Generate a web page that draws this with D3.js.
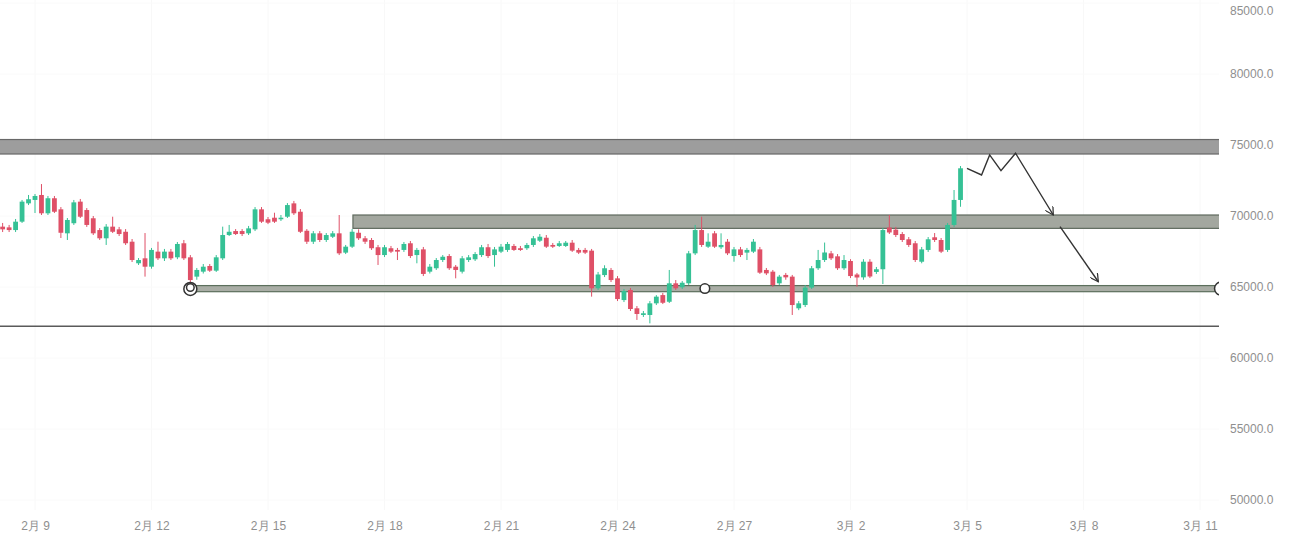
<!DOCTYPE html>
<html lang="zh">
<head>
<meta charset="UTF-8">
<title>candles</title>
<script src="https://cdn.jsdelivr.net/npm/d3@7"></script>
<style>
  body { margin: 0; background: #fff; }
  svg { display: block; font-family: Roboto, "Noto Sans CJK SC", sans-serif; }
  .axis text { fill: #8f8f8f; font-size: 12px; }
</style>
</head>
<body>
<div id="chart"></div>
<script>
// 4h candles, first one opens 2月8 04:00
var firstCandle = new Date(2023, 1, 8, 4);
var candleHours = 4;

var opens = [
69250,69200,69010,69600,70890,71130,71480,70190,71250,70470,
68780,69490,71010,70420,69840,69010,68430,69250,69060,68890,
68190,66670,67020,66430,67490,67020,67490,67090,68080,67090,
65730,66080,66480,66150,67020,68660,68940,68940,68780,69060,
70470,69770,69880,69770,69950,70890,70300,68960,68190,68780,
68310,68540,68780,67420,67840,68820,68430,68310,67800,67250,
67730,67610,67610,68080,67250,67650,66080,66320,66900,67180,
66430,66080,66900,66950,67250,67800,67250,67490,67610,67890,
67730,67730,67960,68260,68470,67960,67890,67890,68120,67610,
67610,67560,64910,65840,66200,65610,64080,64790,63500,63030,
63030,63850,64430,63960,65260,64980,65260,67370,69010,67840,
68780,67800,68190,67180,67650,67420,67490,67650,66200,66080,
65260,65850,65730,63500,63730,64960,66320,66900,67370,67160,
66320,66830,65880,65680,66780,66060,66250,69190,69040,68730,
68360,68080,66780,67610,68500,68310,67610,69370,71130];

var closes = [
69060,69010,69600,71010,71180,71410,70190,71250,70300,68820,
69720,70960,69950,69370,68780,68430,69250,68890,68730,68080,
66900,66900,66430,67610,67020,67490,67020,68030,67020,65490,
66200,66430,66150,67090,68660,68890,68730,68730,69130,70470,
69600,69530,69600,69880,70770,70190,68890,68190,68780,68310,
68660,68780,67370,67840,68890,68430,68190,67730,67250,67800,
67490,67490,68030,67180,67610,65920,66430,66900,67130,66320,
66200,67020,67090,67320,67800,67180,67650,67840,68030,67610,
67610,67960,68430,68540,67840,67840,68080,68120,67560,67420,
67420,64910,65880,66320,65490,64150,64720,63450,63100,63150,
63850,64320,63890,65260,64910,65300,67370,69010,67960,68190,
67840,67960,67370,67650,67250,67610,68190,66010,65960,65140,
65730,65680,63730,63850,64960,66320,66900,67430,67020,66320,
66900,65770,65670,66780,65740,66250,69010,68840,68660,68310,
67960,66900,67650,68360,68310,67490,69370,71130,73360];

var highs = [
69510,69370,69790,71130,71480,71550,72250,71410,71410,70630,
69860,71130,71200,70560,70000,69150,69430,69950,69230,69080,
68380,67040,68800,67750,68190,67680,67680,68170,68310,67250,
66340,66620,66620,67250,69250,69370,69080,69080,69300,70630,
70630,69930,70230,70070,70910,71060,70490,69080,68940,68940,
68800,68940,70070,67960,69080,69060,68590,68450,67960,67960,
67890,67750,68170,68240,67750,67820,66620,67040,67250,67320,
66550,67180,67250,67460,67960,68030,67820,68030,68170,68030,
67890,68100,68590,68730,68660,68100,68240,68240,68310,67750,
67750,67680,66060,66530,66340,65770,64860,64930,63660,63310,
64010,64430,64580,66200,65490,65420,67540,69370,69950,68780,
68940,68780,68380,67820,67820,67750,68380,67820,66340,66200,
65850,65990,65850,64010,65140,66480,67610,68130,67540,67320,
67250,66960,65990,66960,66960,66410,69150,70070,69230,68870,
68520,68240,67820,68520,68800,68450,69510,71830,73520];

var lows = [
68870,68870,68870,69510,70770,70210,70070,70070,70210,68450,
68310,69370,69860,69230,68660,68310,67960,68800,68590,67960,
66760,66550,65730,66290,66900,66830,66900,66960,66900,65140,
65510,65950,66060,66060,66900,68590,68660,68590,68660,68940,
69510,69430,69510,69650,69860,70070,68800,68030,68030,68170,
68170,68450,67250,67320,67750,68310,68030,67610,66550,67110,
67390,66900,67470,67040,66670,65770,65950,66200,66760,66200,
65610,65950,66760,66830,67110,67040,66430,67390,67470,67540,
67540,67610,67820,68170,67750,67750,67820,67820,67470,67320,
67320,64320,64790,65700,65350,64010,63940,63310,62680,62890,
62440,63730,63800,63870,64790,64860,65140,67250,67820,67750,
67750,67680,67250,66780,67110,66900,67390,65920,65840,65000,
65140,65510,63030,63370,63590,64860,66200,66760,66900,66200,
66200,65630,65020,65510,65630,65920,65210,68730,68520,68170,
67820,66760,66670,67470,68170,67390,67470,69230,70650];

var xTickDates = [
  new Date(2023,1,9), new Date(2023,1,12), new Date(2023,1,15), new Date(2023,1,18),
  new Date(2023,1,21), new Date(2023,1,24), new Date(2023,1,27), new Date(2023,2,2),
  new Date(2023,2,5), new Date(2023,2,8), new Date(2023,2,11)];
var yTicks = [50000,55000,60000,65000,70000,75000,80000,85000];

// drawn zones: [start, low price, high price]
var zoneStarts = [new Date(2023,1,7), new Date(2023,1,17,4,30), new Date(2023,1,13)];
var zoneLows   = [74365, 69130, 64670];
var zoneHighs  = [75385, 70070, 65100];
var zoneFills  = ["#9d9d9d", "#a3a79f", "#a9ada5"];
var zoneEdges  = ["#686868", "#5f6a5e", "#5c6f5c"];
var zoneEnd = new Date(2023,2,12);
var floorPrice = 62240;

// projected path (zigzag then two legs down)
var pathTimes = [new Date(2023,2,5,0), new Date(2023,2,5,9), new Date(2023,2,5,14),
                 new Date(2023,2,5,21), new Date(2023,2,6,6), new Date(2023,2,7,5,20)];
var pathPrices = [73360, 72890, 74300, 73190, 74420, 70070];
var leg2Times = [new Date(2023,2,7,9,30), new Date(2023,2,8,9,10)];
var leg2Prices = [69250, 65370];

var markTimes = [new Date(2023,1,13,0), new Date(2023,1,26,6), new Date(2023,2,11,13)];
var markPrices = [64860, 64890, 64890];

var w = 1290, h = 537, plotRight = 1219;

var svg = d3.select("#chart").append("svg")
  .attr("width", w).attr("height", h);

var x = d3.scaleTime()
  .domain([new Date(2023,1,9), new Date(2023,2,11)])
  .range([35, 1200]);
var y = d3.scaleLinear().domain([50000, 85000]).range([500, 3]);

svg.append("defs").append("clipPath").attr("id", "plot")
  .append("rect").attr("x", 0).attr("y", 0).attr("width", plotRight).attr("height", h);

var defs = svg.select("defs");
defs.append("marker")
  .attr("id", "arrow")
  .attr("viewBox", "0 0 10 10")
  .attr("refX", 9).attr("refY", 5)
  .attr("markerWidth", 9).attr("markerHeight", 9)
  .attr("markerUnits", "userSpaceOnUse")
  .attr("orient", "auto")
  .append("path")
  .attr("d", "M0,0 L9,5 L0,10")
  .attr("fill", "none").attr("stroke", "#333").attr("stroke-width", 1.4);

// faint grid
var grid = svg.append("g").attr("clip-path", "url(#plot)");
grid.selectAll(".vg").data(xTickDates).enter().append("line")
  .attr("x1", function(d){ return x(d); }).attr("x2", function(d){ return x(d); })
  .attr("y1", 0).attr("y2", 510)
  .attr("stroke", "#f8f8f8");
grid.selectAll(".hg").data(yTicks).enter().append("line")
  .attr("x1", 0).attr("x2", plotRight)
  .attr("y1", function(d){ return y(d); }).attr("y2", function(d){ return y(d); })
  .attr("stroke", "#fafafa");

var plot = svg.append("g").attr("clip-path", "url(#plot)");

// zones
zoneStarts.forEach(function(s, i){
  plot.append("rect")
    .attr("x", x(s))
    .attr("y", y(zoneHighs[i]))
    .attr("width", x(zoneEnd) - x(s))
    .attr("height", y(zoneLows[i]) - y(zoneHighs[i]))
    .attr("fill", zoneFills[i])
    .attr("stroke", zoneEdges[i])
    .attr("stroke-width", 1.2);
});

plot.append("line")
  .attr("x1", 0).attr("x2", plotRight)
  .attr("y1", y(floorPrice)).attr("y2", y(floorPrice))
  .attr("stroke", "#5a5a5a").attr("stroke-width", 1.5);

// candles
var candles = opens.map(function(o, i){
  return { t: d3.timeHour.offset(firstCandle, i * candleHours), o: o, c: closes[i], hi: highs[i], lo: lows[i] };
});
var up = "#35c195", down = "#df5067";
var bodyW = 4.8;

var cg = plot.selectAll(".candle").data(candles).enter().append("g").attr("class", "candle");
cg.append("line")
  .attr("x1", function(d){ return x(d.t); }).attr("x2", function(d){ return x(d.t); })
  .attr("y1", function(d){ return y(d.hi); }).attr("y2", function(d){ return y(d.lo); })
  .attr("stroke", function(d){ return d.c >= d.o ? up : down; })
  .attr("stroke-width", 1);
cg.append("rect")
  .attr("x", function(d){ return x(d.t) - bodyW / 2; })
  .attr("width", bodyW)
  .attr("y", function(d){ return y(Math.max(d.o, d.c)); })
  .attr("height", function(d){ return Math.max(1.5, Math.abs(y(d.o) - y(d.c))); })
  .attr("fill", function(d){ return d.c >= d.o ? up : down; });

// projection lines
var line = d3.line()
  .x(function(d){ return x(d[0]); })
  .y(function(d){ return y(d[1]); });
plot.append("path")
  .attr("d", line(d3.zip(pathTimes, pathPrices)))
  .attr("fill", "none").attr("stroke", "#333").attr("stroke-width", 1.4)
  .attr("marker-end", "url(#arrow)");
plot.append("path")
  .attr("d", line(d3.zip(leg2Times, leg2Prices)))
  .attr("fill", "none").attr("stroke", "#333").attr("stroke-width", 1.4)
  .attr("marker-end", "url(#arrow)");

// anchor circles
markTimes.forEach(function(t, i){
  var cx = x(t), cy = y(markPrices[i]);
  var r = i === 1 ? 4.8 : 6.5;
  plot.append("circle").attr("cx", cx).attr("cy", cy).attr("r", r)
    .attr("fill", "#fff").attr("stroke", "#333").attr("stroke-width", 1.5);
  if (i === 0) {
    plot.append("circle").attr("cx", cx).attr("cy", cy - 1.5).attr("r", 3.8)
      .attr("fill", "#fff").attr("stroke", "#333").attr("stroke-width", 1.5);
  }
});

// axes
var fmt = d3.timeFormat("%-m月 %-d");
svg.append("g").attr("class", "axis")
  .attr("transform", "translate(0,517)")
  .call(d3.axisBottom(x).tickValues(xTickDates).tickFormat(fmt).tickSize(0).tickPadding(4))
  .call(function(g){ g.select(".domain").remove(); });

var yAxis = svg.append("g").attr("class", "axis")
  .attr("transform", "translate(" + 1228 + ",0)")
  .call(d3.axisRight(y).tickValues(yTicks).tickFormat(d3.format(".1f")).tickSize(0).tickPadding(2))
  .call(function(g){ g.select(".domain").remove(); });
// keep the top label inside the frame
yAxis.selectAll(".tick text")
  .filter(function(d){ return d === 85000; })
  .attr("dy", "0.95em");
</script>
</body>
</html>
